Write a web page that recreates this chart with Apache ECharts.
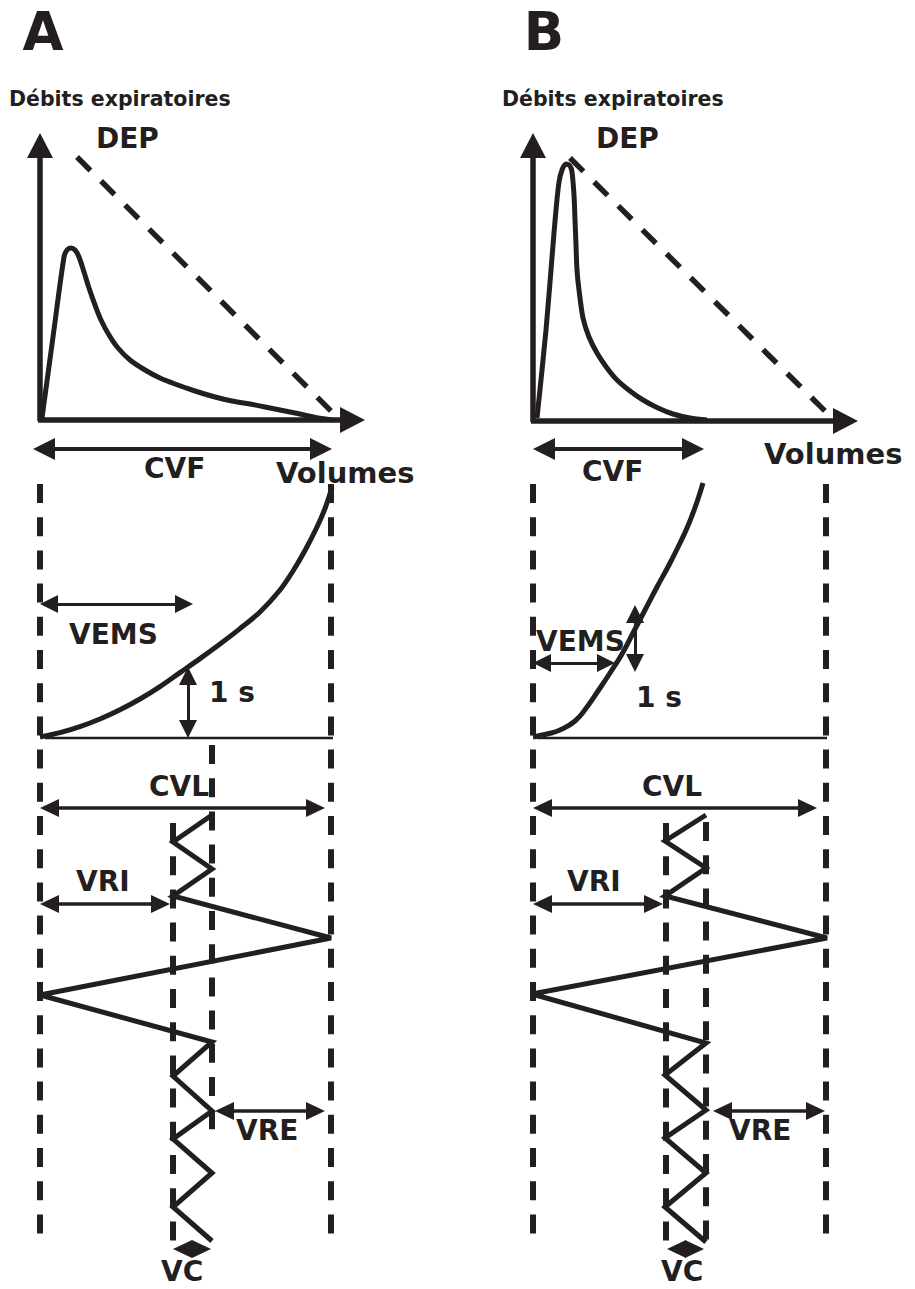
<!DOCTYPE html>
<html><head><meta charset="utf-8">
<script src="https://cdn.jsdelivr.net/npm/echarts@6/dist/echarts.min.js"></script>
<style>html,body{margin:0;padding:0;background:#fff}#c{width:915px;height:1289px}</style>
</head><body><div id="c"></div>
<script>
const INK = '#231f20';

// ---- data (diagram units: x = volume / position, y = downward page units) ----
const flowA = [[42,418],[53,337],[64,257],[67,250],[71,248],[75,250],[79,257],[84,272],[89,288],[95,305],[101,320],[109,335],[118,348],[130,360],[145,370],[160,378],[175,384],[195,391],[215,397],[232,401],[250,404],[270,408],[295,413],[318,418],[333,420]];
const flowB = [[537,418],[546,330],[553,245],[556,210],[559,182],[562,170],[566,164],[570,166],[572,172],[574,195],[575,220],[576,245],[577,270],[579,290],[583,318],[589,337],[597,353],[607,368],[617,380],[630,391],[643,400],[658,408],[673,414],[690,418],[707,420]];
const depA = [[77,157],[333,413]];
const depB = [[570,158],[827,413]];
const volTimeA = [[40,737],[60,732.6],[80,726.6],[100,719],[120,709.8],[140,699],[160,686.6],[180,672.6],[200,658.6],[220,644],[240,628.6],[260,612],[280,590],[293,571],[305,550.5],[317,527],[325,508.5],[332,487.5]];
const volTimeB = [[533,737],[547,734],[560,730],[575,721],[587,707],[598,691],[610,673],[622,654],[633,633],[645,610],[657,587],[669,565],[680,543],[687,528],[693,513],[698,499],[703,483]];
const spiroA = [[212,815],[173,842],[212,869],[173,896],[331,938],[40,995],[212,1042],[173,1076],[212,1111],[173,1139],[212,1173],[173,1207],[212,1241]];
const spiroB = [[706,815],[665,841],[706,868],[665,896],[827,938],[532,994],[706,1043],[665,1075],[706,1110],[665,1138],[706,1173],[665,1207],[706,1242]];
const guides = [
  [[40,484],[40,1235]], [[331,484],[331,1235]], [[212,745],[212,1132]], [[173,823],[173,1243]],
  [[533,484],[533,1235]], [[826,484],[826,1235]], [[706,822],[706,1242]], [[666,823],[666,1242]]
];
const baselines = [[[45,738],[333,738]], [[537,738],[827,738]]];
const axisLines = [[[40,421],[40,133]], [[38,420],[365,420]], [[533,422],[533,133]], [[531,421],[858,421]]];
const cvfArrows = [[[33,449],[332,449]], [[533,449],[704,449]]];
const smallArrows = [[[40,604],[193,604]], [[188,667],[188,738]], [[533,663],[615,663]], [[635,605],[635,672]]];
const volArrows = [[[40,808],[325,808]], [[40,904],[170,904]], [[215,1111],[325,1111]],
                   [[533,808],[817,808]], [[533,904],[663,904]], [[713,1111],[825,1111]]];
const vcArrows = [[[173,1249],[211,1249]], [[667,1249],[704,1249]]];

// label texts
const labels = [
  ['A', 43, 31, 53, 'center'], ['B', 544, 31, 53, 'center'],
  ['Débits expiratoires', 9, 99, 20.5, 'left'], ['Débits expiratoires', 502, 99, 20.5, 'left'],
  ['DEP', 96, 138, 28, 'left'], ['DEP', 596, 138, 28, 'left'],
  ['CVF', 144, 468, 28, 'left'], ['CVF', 582, 471, 28, 'left'],
  ['Volumes', 276, 473, 29, 'left'], ['Volumes', 764, 454, 29, 'left'],
  ['VEMS', 69, 634, 28, 'left'], ['VEMS', 536, 641, 28, 'left'],
  ['1 s', 209, 692, 28, 'left'], ['1 s', 636, 697, 28, 'left'],
  ['CVL', 149, 786, 28, 'left'], ['CVL', 642, 786, 28, 'left'],
  ['VRI', 76, 881, 28, 'left'], ['VRI', 567, 881, 28, 'left'],
  ['VRE', 236, 1130, 28, 'left'], ['VRE', 729, 1130, 28, 'left'],
  ['VC', 161, 1271, 28, 'left'], ['VC', 661, 1271, 28, 'left']
];

// ---- helpers ----
function pull(from, tip, l) {
  const dx = tip[0] - from[0], dy = tip[1] - from[1], d = Math.hypot(dx, dy);
  return [tip[0] - dx / d * l, tip[1] - dy / d * l];
}
function arrows(segs, head, width, both) {
  return {
    type: 'lines', coordinateSystem: 'cartesian2d', silent: true, z: 4, animation: false,
    symbol: [both ? 'triangle' : 'none', 'triangle'],
    symbolSize: [head, head],
    lineStyle: { color: INK, width: width, opacity: 1, curveness: 0, cap: 'butt' },
    data: segs.map(([a, b]) => ({ coords: [both ? pull(b, a, head[1] / 2) : a, pull(a, b, head[1] / 2)] }))
  };
}
function path(data, width, extra, styleExtra) {
  return Object.assign({
    type: 'line', data: data, symbol: 'none', showSymbol: false, silent: true, animation: false, z: 3,
    lineStyle: Object.assign({ color: INK, width: width, cap: 'butt', join: 'round' }, styleExtra || {})
  }, extra || {});
}

const series = [];
guides.forEach(g => series.push(path(g, 6, {}, { type: [19, 14.2] })));
series.push(path(depA, 5.5, {}, { type: [19, 15] }));
series.push(path(depB, 5.5, {}, { type: [19, 15] }));
series.push(path(flowA, 5, { smooth: 0.3 }));
series.push(path(flowB, 5, { smooth: 0.3 }));
series.push(path(volTimeA, 5, { smooth: 0.3 }));
series.push(path(volTimeB, 5, { smooth: 0.5 }));
baselines.forEach(b => series.push(path(b, 2.5)));
series.push(path(spiroA, 5, {}, { join: 'miter', miterLimit: 2.5 }));
series.push(path(spiroB, 5, {}, { join: 'miter', miterLimit: 2.5 }));
series.push(arrows(axisLines, [26, 25], 5.5, false));
series.push(arrows(cvfArrows, [22, 22], 4, true));
series.push(arrows(smallArrows, [18, 18], 3, true));
series.push(arrows(volArrows, [18, 19], 3.5, true));
series.push(arrows(vcArrows, [18, 19], 1, true));

const chart = echarts.init(document.getElementById('c'), null, { renderer: 'svg', width: 915, height: 1289 });
chart.setOption({
  backgroundColor: '#ffffff',
  animation: false,
  grid: { left: 0, right: 0, top: 0, bottom: 0, containLabel: false },
  xAxis: { type: 'value', min: 0, max: 915, show: false },
  yAxis: { type: 'value', min: 0, max: 1289, inverse: true, show: false },
  series: series,
  graphic: labels.map(([t, x, y, s, al]) => ({
    type: 'text', x: x, y: y, silent: true, z: 10,
    style: { text: t, fill: INK, font: 'bold ' + s + 'px "DejaVu Sans"',
             textAlign: al, align: al, textVerticalAlign: 'middle', verticalAlign: 'middle' }
  }))
});
</script></body></html>
